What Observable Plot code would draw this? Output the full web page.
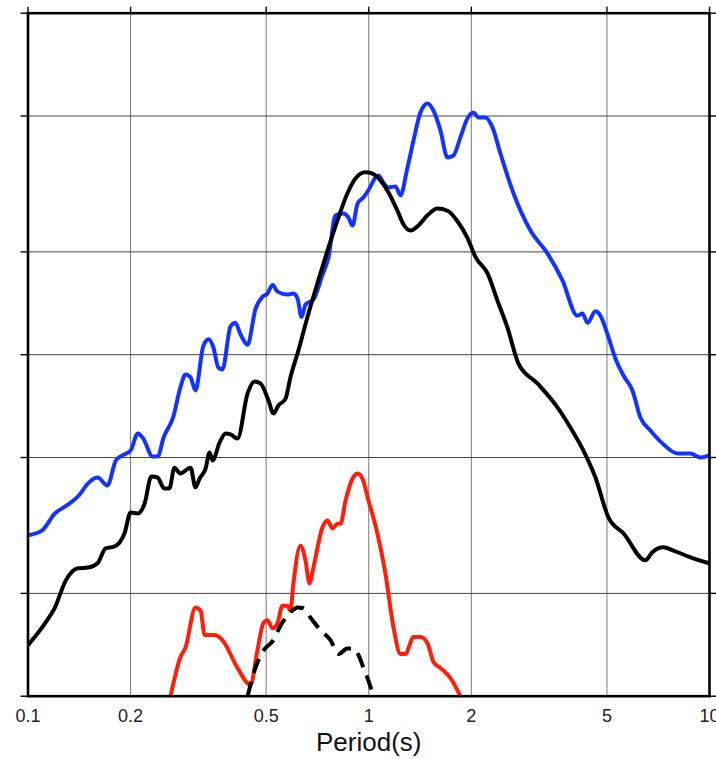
<!DOCTYPE html>
<html>
<head>
<meta charset="utf-8">
<script src="https://cdn.jsdelivr.net/npm/d3@7"></script>
<script src="https://cdn.jsdelivr.net/npm/@observablehq/plot@0.6"></script>
<style>
  html, body { margin: 0; padding: 0; background: #fff; }
  #chart svg { display: block; }
</style>
</head>
<body>
<div id="chart"></div>
<script>
// ---- Data (period in seconds, spectral value on log scale) ----
const xTickValues = [0.1, 0.2, 0.5, 1, 2, 5, 10];
const xTickLabels = ["0.1", "0.2", "0.5", "1", "2", "5", "10"];
const yTickValues = [1, 2, 5, 10, 20, 50, 100];
const xGridValues = [0.2, 0.5, 1, 2, 5];
const yGridValues = [2, 5, 10, 20, 50];

const blueT = [0.1, 0.110, 0.120, 0.130, 0.141, 0.150, 0.160, 0.171, 0.181, 0.189, 0.200, 0.210, 0.218, 0.232, 0.240, 0.250, 0.267, 0.280, 0.290, 0.300, 0.310, 0.327, 0.339, 0.350, 0.362, 0.372, 0.393, 0.406, 0.420, 0.441, 0.465, 0.488, 0.504, 0.522, 0.540, 0.577, 0.601, 0.618, 0.635, 0.652, 0.688, 0.731, 0.762, 0.799, 0.843, 0.872, 0.896, 0.927, 0.965, 0.998, 1.046, 1.068, 1.104, 1.142, 1.198, 1.239, 1.299, 1.353, 1.418, 1.487, 1.548, 1.623, 1.702, 1.772, 1.858, 1.948, 2.029, 2.099, 2.200, 2.307, 2.435, 2.659, 2.982, 3.345, 3.702, 4.097, 4.238, 4.383, 4.627, 4.786, 5.016, 5.296, 5.590, 5.940, 6.269, 6.708, 7.275, 8.051, 8.790, 9.404, 10.0];
const blueV = [2.96, 3.06, 3.43, 3.62, 3.87, 4.20, 4.37, 4.14, 4.90, 5.07, 5.24, 5.88, 5.68, 5.03, 5.03, 5.72, 6.59, 8.02, 8.75, 8.58, 7.86, 10.6, 11.1, 10.5, 9.17, 9.05, 12.1, 12.4, 11.5, 10.7, 13.6, 14.8, 15.1, 16.0, 15.3, 15.0, 15.1, 14.6, 12.9, 14.0, 14.5, 17.1, 19.3, 25.6, 25.9, 25.2, 23.9, 27.7, 28.9, 30.3, 33.0, 33.5, 31.9, 30.9, 31.1, 29.3, 35.3, 42.4, 51.2, 54.4, 51.9, 45.4, 37.8, 38.3, 43.3, 49.2, 51.2, 49.5, 49.5, 46.3, 38.8, 29.7, 23.1, 19.8, 16.5, 13.0, 13.2, 12.4, 13.4, 13.0, 11.5, 9.75, 8.69, 7.86, 6.55, 6.00, 5.50, 5.14, 5.14, 5.00, 5.07];

const blackT = [0.1, 0.112, 0.120, 0.129, 0.140, 0.150, 0.160, 0.169, 0.179, 0.192, 0.200, 0.210, 0.220, 0.230, 0.240, 0.251, 0.260, 0.269, 0.280, 0.300, 0.310, 0.319, 0.332, 0.341, 0.348, 0.365, 0.380, 0.393, 0.412, 0.441, 0.462, 0.481, 0.508, 0.525, 0.543, 0.570, 0.589, 0.622, 0.661, 0.707, 0.757, 0.809, 0.866, 0.914, 0.978, 1.025, 1.082, 1.142, 1.214, 1.264, 1.326, 1.399, 1.487, 1.591, 1.702, 1.821, 1.948, 2.058, 2.232, 2.386, 2.553, 2.750, 3.126, 3.579, 3.907, 4.266, 4.627, 5.050, 5.590, 6.485, 6.797, 7.324, 7.839, 8.790, 10.0];
const blackV = [1.41, 1.63, 1.82, 2.18, 2.37, 2.38, 2.45, 2.71, 2.74, 3.00, 3.45, 3.43, 3.67, 4.40, 4.37, 4.06, 4.06, 4.67, 4.49, 4.67, 4.09, 4.34, 4.64, 5.17, 4.90, 5.53, 5.88, 5.84, 5.68, 7.70, 8.35, 8.24, 7.34, 6.73, 7.10, 7.44, 8.58, 10.3, 12.9, 16.2, 20.2, 24.7, 29.7, 32.8, 34.2, 33.9, 32.4, 29.9, 26.4, 24.1, 23.1, 23.9, 25.6, 26.8, 26.4, 24.6, 22.0, 19.3, 17.3, 14.4, 12.0, 9.42, 8.24, 7.01, 6.12, 5.24, 4.37, 3.34, 3.00, 2.50, 2.64, 2.73, 2.67, 2.55, 2.45];

const redT = [0.262, 0.280, 0.290, 0.310, 0.321, 0.330, 0.353, 0.372, 0.412, 0.450, 0.471, 0.491, 0.504, 0.522, 0.540, 0.558, 0.577, 0.589, 0.601, 0.630, 0.652, 0.670, 0.688, 0.731, 0.757, 0.783, 0.809, 0.826, 0.855, 0.896, 0.927, 0.958, 0.998, 1.060, 1.119, 1.182, 1.239, 1.281, 1.353, 1.418, 1.487, 1.548, 1.623, 1.737, 1.858];
const redV = [1.00, 1.30, 1.39, 1.82, 1.78, 1.51, 1.51, 1.46, 1.21, 1.08, 1.36, 1.64, 1.67, 1.58, 1.64, 1.84, 1.84, 1.78, 2.14, 2.76, 2.50, 2.14, 2.38, 3.12, 3.27, 3.10, 3.20, 3.20, 3.74, 4.34, 4.49, 4.34, 3.74, 3.00, 2.29, 1.59, 1.33, 1.33, 1.49, 1.49, 1.43, 1.26, 1.21, 1.13, 1.00];

const dashT = [0.441, 0.465, 0.491, 0.525, 0.551, 0.589, 0.618, 0.643, 0.674, 0.722, 0.772, 0.815, 0.866, 0.902, 0.933, 0.965, 0.998, 1.032];
const dashV = [1.00, 1.21, 1.36, 1.46, 1.61, 1.76, 1.82, 1.81, 1.70, 1.56, 1.46, 1.33, 1.38, 1.38, 1.32, 1.21, 1.11, 1.00];

const toRows = (T, V) => T.map((t, i) => ({T: t, v: V[i]}));
const blue = toRows(blueT, blueV);
const black = toRows(blackT, blackV);
const red = toRows(redT, redV);
const dash = toRows(dashT, dashV);

const lineOpts = {x: "T", y: "v", strokeWidth: 4, strokeLinejoin: "round", strokeLinecap: "butt", curve: "monotone-x", clip: true};

const chart = Plot.plot({
  width: 716,
  height: 759,
  marginLeft: 27.5,
  marginRight: 7,
  marginTop: 12.7,
  marginBottom: 63.3,
  style: {fontFamily: "'Liberation Sans', Arial, Helvetica, sans-serif", fontSize: "18px", background: "#fff", color: "#000"},
  x: {type: "log", domain: [0.1, 10]},
  y: {type: "log", domain: [1, 100]},
  marks: [
    Plot.gridX(xGridValues, {stroke: "#7a7a7a", strokeOpacity: 1, strokeWidth: 1}),
    Plot.gridY(yGridValues, {stroke: "#444", strokeOpacity: 1, strokeWidth: 1}),
    Plot.line(blue, {...lineOpts, stroke: "#1433ff"}),
    Plot.line(black, {...lineOpts, stroke: "#000"}),
    Plot.line(red, {...lineOpts, stroke: "#ff1e0a"}),
    Plot.line(dash, {...lineOpts, stroke: "#000", strokeDasharray: "15,9"}),
    Plot.axisY({anchor: "left", ticks: yTickValues, tickSize: 7, tickFormat: () => "", label: null, strokeWidth: 1.4}),
    Plot.axisY({anchor: "right", ticks: yTickValues, tickSize: 7, tickFormat: () => "", label: null, strokeWidth: 1.4}),
    Plot.axisX({anchor: "top", ticks: xTickValues, tickSize: 7, tickFormat: () => "", label: null, strokeWidth: 1.4}),
    Plot.axisX({anchor: "bottom", ticks: xTickValues, tickSize: 0, tickPadding: 13,
      tickFormat: (d) => xTickLabels[xTickValues.indexOf(d)], label: null, fontSize: 18, fill: "#222"}),
    Plot.frame({stroke: "#000", strokeWidth: 2.6}),
    Plot.text(["Period(s)"], {frameAnchor: "bottom", dy: 55, fontSize: 26, fill: "#111"})
  ]
});
document.getElementById("chart").appendChild(chart);
</script>
</body>
</html>
